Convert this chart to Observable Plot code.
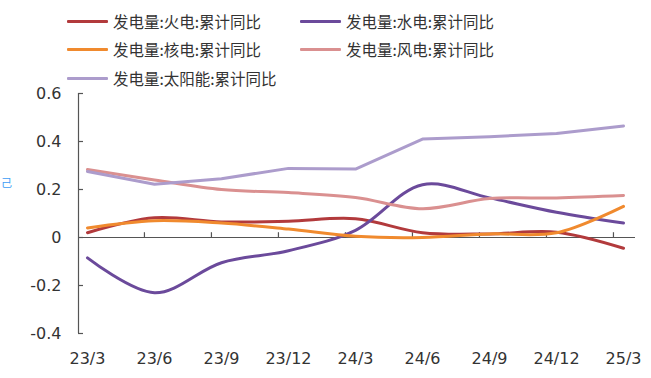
<!DOCTYPE html>
<html>
<head>
<meta charset="utf-8">
<script src="https://cdn.jsdelivr.net/npm/d3@7"></script>
<script src="https://cdn.jsdelivr.net/npm/@observablehq/plot@0.6"></script>
<style>
  html, body { margin: 0; padding: 0; background: #fff; }
  #wrap { position: relative; width: 651px; height: 378px; overflow: hidden; }
  #legend { position: relative; width: 651px; height: 86px; font-family: "Noto Sans CJK SC", sans-serif; font-size: 15.5px; color: #333; }
  .item { position: absolute; display: flex; align-items: center; white-space: nowrap; }
  .swatch { width: 41px; height: 3px; margin-right: 5px; border-radius: 1px; }
  #frag { position: absolute; left: 1px; top: 176px; font-family: "Noto Sans CJK SC"; font-size: 11px; line-height: 12px; color: #3d9df5; }
</style>
</head>
<body>
<div id="wrap">
  <div id="legend"></div>
  <div id="chart"></div>
  <div id="frag">己</div>
</div>
<script>
const labels = ["23/3","23/6","23/9","23/12","24/3","24/6","24/9","24/12","25/3"];
const thermal = [0.02, 0.082, 0.065, 0.068, 0.078, 0.02, 0.015, 0.022, -0.045];
const hydro   = [-0.085, -0.23, -0.105, -0.055, 0.03, 0.22, 0.165, 0.105, 0.06];
const nuclear = [0.04, 0.07, 0.06, 0.035, 0.005, 0.0, 0.015, 0.02, 0.13];
const wind    = [0.283, 0.24, 0.2, 0.187, 0.167, 0.12, 0.162, 0.165, 0.175];
const solar   = [0.275, 0.222, 0.245, 0.288, 0.285, 0.41, 0.42, 0.433, 0.465];
const seriesNames = ["发电量:火电:累计同比","发电量:水电:累计同比","发电量:核电:累计同比","发电量:风电:累计同比","发电量:太阳能:累计同比"];
const seriesColors = ["#b23a3c", "#6b4a9b", "#f08a2e", "#da9090", "#ac9ccc"];
const seriesCurves = ["catmull-rom", "catmull-rom", "catmull-rom", "catmull-rom", "linear"];
const seriesValues = [thermal, hydro, nuclear, wind, solar];
const yTicks = [0.6, 0.4, 0.2, 0, -0.2, -0.4];
const xTickMarks = [0.85, 1.85, 2.85, 3.85, 4.85, 5.85, 6.85, 7.85];

// legend
const legendPos = [[67, 21], [300, 21], [67, 49], [300, 49], [67, 78]];
const legend = document.getElementById("legend");
seriesNames.forEach((name, i) => {
  const it = document.createElement("div");
  it.className = "item";
  it.style.left = legendPos[i][0] + "px";
  it.style.top = (legendPos[i][1] - 12) + "px";
  it.style.height = "24px";
  it.innerHTML = `<div class="swatch" style="background:${seriesColors[i]}"></div><span>${name}</span>`;
  legend.appendChild(it);
});

const xMin = -0.134, xMax = 8.179;
const marks = [
  Plot.ruleY([0], {x1: xMin, x2: xMax, stroke: "#555", strokeWidth: 1.2}),
  Plot.ruleX([xMin], {y1: -0.4, y2: 0.6, stroke: "#555", strokeWidth: 1.2}),
  Plot.ruleY(yTicks, {x1: xMin, x2: xMin + 0.075, stroke: "#555", strokeWidth: 1.2}),
  Plot.ruleX(xTickMarks, {y1: 0, y2: 0.02, stroke: "#555", strokeWidth: 1.2}),
  Plot.axisY(yTicks, {tickSize: 0, tickPadding: 17, label: null, tickFormat: d => d === 0 ? "0" : String(d), fill: "#333"}),
  Plot.axisX(d3.range(labels.length), {tickSize: 0, tickPadding: 19, label: null, tickFormat: i => labels[i], fill: "#333"})
];
seriesValues.forEach((vals, s) => {
  marks.push(Plot.line(vals.map((v, i) => ({i, v})), {x: "i", y: "v", stroke: seriesColors[s], strokeWidth: 3, curve: seriesCurves[s]}));
});

const chart = Plot.plot({
  width: 651,
  height: 292,
  marginLeft: 78,
  marginRight: 16,
  marginTop: 7,
  marginBottom: 45,
  x: {domain: [xMin, xMax]},
  y: {domain: [-0.4, 0.6]},
  style: {background: "transparent", overflow: "visible", fontFamily: "DejaVu Sans", fontSize: "16px"},
  marks
});
document.getElementById("chart").appendChild(chart);
</script>
</body>
</html>
